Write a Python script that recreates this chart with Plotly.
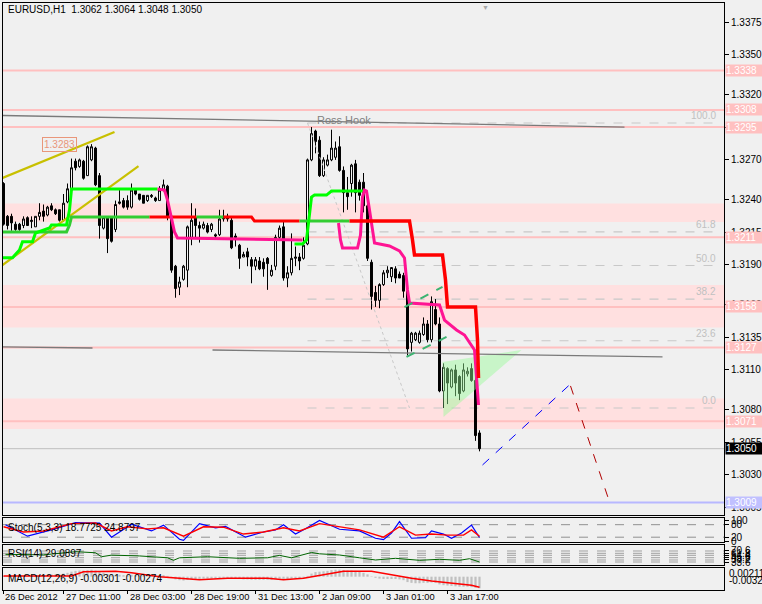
import plotly.graph_objects as go

W, H = 762, 604
FONT = "Liberation Sans"

# ---------------- hourly candles (bar index) ----------------
opens = [1.3252,1.3227,1.3227,1.3221,1.3221,1.3220,1.3226,1.3223,1.3219,1.3227,
         1.3231,1.3228,1.3235,1.3232,1.3232,1.3224,1.3238,1.3247,1.3269,1.3265,
         1.3269,1.3258,1.3270,1.3279,1.3258,1.3218,1.3226,1.3226,1.3217,1.3238,
         1.3239,1.3239,1.3234,1.3247,1.3244,1.3243,1.3239,1.3242,1.3241,1.3239,
         1.3247,1.3250,1.3227,1.3189,1.3173,1.3179,1.3186,1.3211,1.3226,1.3220,
         1.3218,1.3220,1.3217,1.3213,1.3213,1.3227,1.3227,1.3224,1.3212,1.3205,
         1.3196,1.3200,1.3194,1.3189,1.3193,1.3192,1.3195,1.3182,1.3189,1.3211,
         1.3219,1.3180,1.3184,1.3195,1.3196,1.3195,1.3206,1.3270,1.3292,1.3285,
         1.3258,1.3266,1.3270,1.3272,1.3280,1.3262,1.3245,1.3252,1.3267,1.3253,
         1.3253,1.3235,1.3192,1.3169,1.3163,1.3175,1.3184,1.3181,1.3187,1.3183,
         1.3182,1.3170,1.3131,1.3133,1.3131,1.3137,1.3145,1.3133,1.3156,1.3145,
         1.3094,1.3111,1.3097,1.3110,1.3105,1.3094,1.3107,1.3111,1.3102,1.3062]
highs = [1.3253,1.3228,1.3229,1.3223,1.3222,1.3227,1.3227,1.3227,1.3227,1.3237,
         1.3236,1.3235,1.3237,1.3233,1.3232,1.3244,1.3252,1.3271,1.3271,1.3271,
         1.3270,1.3281,1.3282,1.3280,1.3260,1.3227,1.3227,1.3227,1.3239,1.3247,
         1.3241,1.3243,1.3252,1.3247,1.3244,1.3243,1.3243,1.3244,1.3242,1.3250,
         1.3255,1.3251,1.3228,1.3190,1.3181,1.3190,1.3220,1.3237,1.3233,1.3223,
         1.3223,1.3222,1.3222,1.3214,1.3232,1.3232,1.3229,1.3227,1.3214,1.3206,
         1.3200,1.3203,1.3196,1.3196,1.3196,1.3195,1.3196,1.3190,1.3213,1.3220,
         1.3224,1.3189,1.3214,1.3204,1.3199,1.3211,1.3271,1.3295,1.3293,1.3288,
         1.3272,1.3274,1.3293,1.3284,1.3288,1.3265,1.3257,1.3267,1.3270,1.3255,
         1.3260,1.3240,1.3194,1.3174,1.3176,1.3186,1.3189,1.3188,1.3189,1.3185,
         1.3184,1.3171,1.3139,1.3139,1.3140,1.3150,1.3148,1.3166,1.3164,1.3150,
         1.3115,1.3112,1.3111,1.3114,1.3106,1.3115,1.3112,1.3115,1.3105,1.3064]
lows = [1.3220,1.3217,1.3216,1.3216,1.3216,1.3218,1.3220,1.3218,1.3219,1.3224,
        1.3223,1.3227,1.3231,1.3228,1.3223,1.3223,1.3237,1.3247,1.3262,1.3264,
        1.3255,1.3258,1.3269,1.3250,1.3210,1.3217,1.3199,1.3207,1.3215,1.3236,
        1.3233,1.3232,1.3233,1.3243,1.3239,1.3237,1.3238,1.3241,1.3238,1.3239,
        1.3246,1.3224,1.3184,1.3165,1.3167,1.3178,1.3173,1.3205,1.3210,1.3207,
        1.3217,1.3214,1.3215,1.3210,1.3212,1.3223,1.3223,1.3202,1.3204,1.3187,
        1.3196,1.3189,1.3176,1.3186,1.3186,1.3181,1.3171,1.3181,1.3186,1.3209,
        1.3178,1.3173,1.3182,1.3189,1.3186,1.3194,1.3205,1.3269,1.3275,1.3257,
        1.3257,1.3265,1.3269,1.3270,1.3261,1.3230,1.3232,1.3242,1.3230,1.3239,
        1.3230,1.3193,1.3156,1.3158,1.3157,1.3174,1.3180,1.3177,1.3176,1.3180,
        1.3165,1.3121,1.3124,1.3132,1.3130,1.3136,1.3131,1.3131,1.3144,1.3093,
        1.3081,1.3084,1.3096,1.3090,1.3087,1.3093,1.3105,1.3101,1.3056,1.3048]
closes = [1.3221,1.3220,1.3222,1.3217,1.3217,1.3225,1.3220,1.3224,1.3227,1.3230,
          1.3227,1.3234,1.3232,1.3229,1.3224,1.3237,1.3248,1.3264,1.3264,1.3270,
          1.3256,1.3280,1.3280,1.3251,1.3220,1.3226,1.3210,1.3208,1.3236,1.3237,
          1.3234,1.3234,1.3247,1.3244,1.3240,1.3237,1.3243,1.3243,1.3239,1.3247,
          1.3251,1.3227,1.3186,1.3172,1.3177,1.3189,1.3219,1.3224,1.3220,1.3218,
          1.3221,1.3215,1.3221,1.3212,1.3225,1.3225,1.3225,1.3203,1.3211,1.3195,
          1.3198,1.3196,1.3189,1.3194,1.3187,1.3187,1.3191,1.3186,1.3211,1.3218,
          1.3180,1.3184,1.3195,1.3196,1.3193,1.3205,1.3270,1.3290,1.3284,1.3258,
          1.3270,1.3270,1.3279,1.3279,1.3262,1.3245,1.3242,1.3266,1.3245,1.3243,
          1.3235,1.3195,1.3166,1.3163,1.3175,1.3184,1.3186,1.3188,1.3180,1.3180,
          1.3170,1.3126,1.3138,1.3138,1.3138,1.3145,1.3133,1.3162,1.3145,1.3094,
          1.3112,1.3100,1.3110,1.3100,1.3092,1.3110,1.3109,1.3102,1.3060,1.3050]
bars = list(range(len(opens)))

date_tick_bars = [-0.1, 15, 31, 47, 63, 79, 95, 111]
date_tick_text = ["26 Dec 2012", "27 Dec 11:00", "28 Dec 03:00", "28 Dec 19:00",
                  "31 Dec 13:00", "2 Jan 09:00", "3 Jan 01:00", "3 Jan 17:00"]
price_ticks = [1.3375, 1.3350, 1.3320, 1.3295, 1.3270, 1.3240, 1.3215, 1.3190,
               1.3160, 1.3135, 1.3110, 1.3080, 1.3055, 1.3030, 1.3005]

# ---------------- drawn objects ----------------
level_prices = [1.3338, 1.3308, 1.3295, 1.3211, 1.3158, 1.3127, 1.3071]
support_price = 1.3009
bid_price = 1.3050
zone_low = [1.32227, 1.31423, 1.30650]
zone_high = [1.32368, 1.31747, 1.30883]

fib_high = 1.32981
fib_low = 1.30810
fib_levels = [0.0, 23.6, 38.2, 50.0, 61.8, 100.0]
fib_start_bar, fib_end_bar = 76, 179
fib_diag_x = [76, 101.5]
fib_diag_y = [1.32981, 1.30810]

grey1_x, grey1_y = [-0.25, 155.25], [1.33038, 1.32950]
grey2a_x, grey2a_y = [-0.25, 22.25], [1.31275, 1.31267]
grey2b_x, grey2b_y = [52.25, 164.75], [1.31252, 1.31199]

yel1_x, yel1_y = [-0.25, 27.75], [1.32562, 1.32912]
yel2_x, yel2_y = [-0.25, 33.75], [1.31899, 1.32653]

chan_up_x, chan_up_y = [100.25, 109.75], [1.31579, 1.31732]
chan_lo_x, chan_lo_y = [100.75, 110.75], [1.31199, 1.31351]

tri_x = [109.75, 129.5, 110.0, 109.75]
tri_y = [1.31161, 1.31252, 1.30742, 1.31161]

proj_up_x, proj_up_y = [119.75, 141.75], [1.30376, 1.30993]
proj_dn_x, proj_dn_y = [141.75, 151.75], [1.30978, 1.30072]

# fast stop line (green up / pink down)
fast_up1_x = [-0.25, 2.25, 4, 4.75, 7.25, 8, 11.5, 12, 15.75, 16.5, 17, 38.5]
fast_up1_y = [1.31955, 1.31955, 1.32014, 1.32077, 1.32077, 1.32143, 1.32181, 1.32204,
              1.32204, 1.32318, 1.32478, 1.32478]
fast_dn1_x = [38.5, 40.25, 41, 42, 42.75, 43.5, 74.75]
fast_dn1_y = [1.32478, 1.32470, 1.32394, 1.32242, 1.32151, 1.32105, 1.32090]
fast_up2_x = [72.75, 74.75, 75.75, 76.25, 77, 77.75, 80.75, 82, 90.25]
fast_up2_y = [1.32059, 1.32059, 1.32090, 1.32204, 1.32417, 1.32432, 1.32432,
              1.32463, 1.32463]
fast_dn2_x = [83.75, 84.25, 84.75, 88.5, 89.25, 89.75, 90.25, 90.75, 91.5, 92.25,
              92.75, 96.5, 99, 100.25, 101, 101.5, 109, 110.25, 113.25, 115.25,
              116.5, 117.75, 118.25, 118.75]
fast_dn2_y = [1.32219, 1.32090, 1.32029, 1.32029, 1.32128, 1.32417, 1.32470, 1.32463,
              1.32318, 1.32166, 1.32067, 1.32044, 1.32006, 1.31953, 1.31709, 1.31610,
              1.31595, 1.31480, 1.31404, 1.31366, 1.31305, 1.31252, 1.31046, 1.30833]
# slow stop line (lime up / red down)
slow_up1_x = [-0.25, 15.75, 16.5, 17, 36.5]
slow_up1_y = [1.32151, 1.32151, 1.32204, 1.32265, 1.32265]
slow_dn1_x, slow_dn1_y = [36.5, 48.25], [1.32265, 1.32265]
slow_up2_x, slow_up2_y = [48.25, 55], [1.32265, 1.32265]
slow_dn2_x = [55, 62, 62.75, 74]
slow_dn2_y = [1.32265, 1.32265, 1.32234, 1.32234]
slow_up3_x, slow_up3_y = [74, 86.5], [1.32234, 1.32234]
slow_dn3_x = [86.5, 101.5, 102.25, 102.75, 109.75, 110.5, 111, 118, 118.5, 118.75]
slow_dn3_y = [1.32234, 1.32234, 1.32090, 1.31975, 1.31975, 1.31785, 1.31579,
              1.31579, 1.31328, 1.31039]

# ---------------- indicators ----------------
stoch_k_x = [0.5, 6, 12, 18, 24, 27, 32, 37, 40, 44, 45, 49, 53, 55.5, 60.5, 65, 68,
             70, 73, 75.5, 79, 84, 89, 93, 95, 97, 99, 102, 105.5, 107, 110, 112,
             114.5, 117, 119]
stoch_k_y = [80, 25, 55, 90, 88, 20, 82, 50, 78, 10, 5, 85, 65, 72, 20, 45, 55, 80,
             35, 60, 100, 58, 50, 15, 8, 40, 95, 15, 18, 50, 35, 15, 40, 78, 18.7725]
stoch_d_x = [0, 5, 10, 17, 23, 27, 31, 36, 40, 45, 50, 55, 60, 65, 70, 74, 79, 84,
             89, 95, 99, 103, 107, 111, 115, 117, 119]
stoch_d_y = [70, 45, 50, 85, 88, 50, 70, 60, 65, 25, 70, 68, 35, 45, 65, 50, 85, 70,
             55, 20, 70, 30, 35, 30, 30, 55, 24.8797]
stoch_levels = [80, 20]

rsi_x = [0.5, 10, 18, 23, 24.5, 27, 34, 41, 42.5, 44, 51, 56, 59, 66, 69, 72, 77, 79,
         84, 89, 93, 98, 101.5, 104, 109, 114, 116.5, 119]
rsi_y = [58, 56, 68, 64, 49, 55, 52, 45, 35.5, 45, 49, 45, 43, 45, 54, 45, 65, 60,
         55.5, 45, 36.7, 43, 38, 35.5, 39.3, 35.5, 41.6, 29.0897]
rsi_levels = [70.6, 61.9, 54.4, 45.3, 36.7, 29.1]
rsi_level_text = ["70.6", "61.8", "54.4", "45.6", "38.2", "33.6"]

macd_hist = [0.0002, 0.0002, 0.0001, 0.0001, 0.0000, 0.0000, 0.0001, 0.0001, 0.0002, 0.0003,
             0.0004, 0.0005, 0.0006, 0.0006, 0.0006, 0.0008, 0.0010, 0.0013, 0.0015, 0.0016,
             0.0016, 0.0017, 0.0018, 0.0016, 0.0012, 0.0010, 0.0007, 0.0005, 0.0005, 0.0005,
             0.0004, 0.0004, 0.0005, 0.0005, 0.0004, 0.0003, 0.0003, 0.0003, 0.0003, 0.0004,
             0.0004, 0.0002, -0.0003, -0.0007, -0.0009, -0.0010, -0.0008, -0.0006, -0.0006, -0.0006,
             -0.0005, -0.0005, -0.0005, -0.0005, -0.0004, -0.0003, -0.0003, -0.0004, -0.0005, -0.0006,
             -0.0007, -0.0007, -0.0008, -0.0008, -0.0008, -0.0008, -0.0008, -0.0008, -0.0006, -0.0005,
             -0.0006, -0.0006, -0.0005, -0.0005, -0.0004, -0.0003, 0.0002, 0.0008, 0.0012, 0.0013,
             0.0014, 0.0015, 0.0017, 0.0018, 0.0018, 0.0017, 0.0016, 0.0016, 0.0015, 0.0013,
             0.0010, 0.0006, 0.0001, -0.0003, -0.0005, -0.0006, -0.0006, -0.0006, -0.0006, -0.0007,
             -0.0009, -0.0014, -0.0016, -0.0017, -0.0017, -0.0016, -0.0016, -0.0015, -0.0016, -0.0020,
             -0.0022, -0.0023, -0.0024, -0.0025, -0.0026, -0.0026, -0.0026, -0.0027, -0.0029, -0.00301]
macd_sig_x = [0, 17, 20, 28, 32, 39, 49, 56, 66, 70, 75, 80, 85, 92, 97, 102, 107, 112,
              117, 119]
macd_sig_y = [0.0002, 0.0002, 0.0013, 0.0014, 0.0010, 0.0000, -0.0008, -0.0004, -0.0004,
              -0.0008, -0.0004, 0.0005, 0.0014, 0.0014, 0.0005, -0.0004, -0.0011, -0.0016,
              -0.0022, -0.00274]
macd_max_text, macd_min_text = "0.002111", "-0.003260"

# ---------------- layout geometry (pixels) ----------------
LEFT, RIGHT = 3, 724
MAIN = (3, 515)
STO = (518, 542)
RSI = (545, 565)
MACD = (568, 590)


def ydom(p):
    return [(H - p[1]) / H, (H - p[0]) / H]


XDOM = [LEFT / W, RIGHT / W]
XRANGE = [-0.125, 180.125]   # 4 px per hourly bar, bar centres on half pixels

fig = go.Figure()

# triangle
fig.add_trace(go.Scatter(x=tri_x, y=tri_y, mode="lines", fill="toself",
                         fillcolor="rgba(150,250,150,0.45)", line=dict(width=0),
                         xaxis="x", yaxis="y"))
# fib diagonal
fig.add_trace(go.Scatter(x=fib_diag_x, y=fib_diag_y, mode="lines",
                         line=dict(color="#C8C8C8", width=1, dash="dot"), xaxis="x", yaxis="y"))
# grey lines
for gx, gy in [(grey1_x, grey1_y), (grey2a_x, grey2a_y), (grey2b_x, grey2b_y)]:
    fig.add_trace(go.Scatter(x=gx, y=gy, mode="lines", line=dict(color="#7A7A7A", width=1.3),
                             xaxis="x", yaxis="y"))
# yellow trend lines
for gx, gy in [(yel1_x, yel1_y), (yel2_x, yel2_y)]:
    fig.add_trace(go.Scatter(x=gx, y=gy, mode="lines", line=dict(color="#C8C000", width=2.2),
                             xaxis="x", yaxis="y"))

# candles
fig.add_trace(go.Candlestick(
    x=bars, open=opens, high=highs, low=lows, close=closes,
    increasing=dict(line=dict(color="black", width=1), fillcolor="white"),
    decreasing=dict(line=dict(color="black", width=1), fillcolor="black"),
    whiskerwidth=0, xaxis="x", yaxis="y"))


def add_line(x, y, color, width=3):
    fig.add_trace(go.Scatter(x=x, y=y, mode="lines", line=dict(color=color, width=width),
                             xaxis="x", yaxis="y"))


add_line(slow_up1_x, slow_up1_y, "#32CD32")
add_line(slow_dn1_x, slow_dn1_y, "#FF0000")
add_line(slow_up2_x, slow_up2_y, "#32CD32")
add_line(slow_dn2_x, slow_dn2_y, "#FF0000")
add_line(slow_up3_x, slow_up3_y, "#32CD32")
add_line(fast_up1_x, fast_up1_y, "#00FF00")
add_line(fast_dn1_x, fast_dn1_y, "#FF1493")
add_line(fast_up2_x, fast_up2_y, "#00FF00")
add_line(fast_dn2_x, fast_dn2_y, "#FF1493")
add_line(slow_dn3_x, slow_dn3_y, "#FF0000", 3.5)

# channel
for gx, gy in [(chan_up_x, chan_up_y), (chan_lo_x, chan_lo_y)]:
    fig.add_trace(go.Scatter(x=gx, y=gy, mode="lines",
                             line=dict(color="#3CB371", width=2, dash="dash"), xaxis="x", yaxis="y"))
# projections
fig.add_trace(go.Scatter(x=proj_up_x, y=proj_up_y, mode="lines",
                         line=dict(color="#0000FF", width=1, dash="dash"), xaxis="x", yaxis="y"))
fig.add_trace(go.Scatter(x=proj_dn_x, y=proj_dn_y, mode="lines",
                         line=dict(color="#B00000", width=1, dash="dash"), xaxis="x", yaxis="y"))

# stochastic
fig.add_trace(go.Scatter(x=stoch_k_x, y=stoch_k_y, mode="lines",
                         line=dict(color="#0000FF", width=1.2), xaxis="x2", yaxis="y2"))
fig.add_trace(go.Scatter(x=stoch_d_x, y=stoch_d_y, mode="lines",
                         line=dict(color="#FF0000", width=1.4), xaxis="x2", yaxis="y2"))
# rsi
fig.add_trace(go.Scatter(x=rsi_x, y=rsi_y, mode="lines",
                         line=dict(color="#006400", width=1), xaxis="x3", yaxis="y3"))
# macd
fig.add_trace(go.Bar(x=bars, y=macd_hist, width=0.55, marker=dict(color="#C0C0C0", line_width=0),
                     xaxis="x4", yaxis="y4"))
fig.add_trace(go.Scatter(x=macd_sig_x, y=macd_sig_y, mode="lines",
                         line=dict(color="#FF0000", width=1.5), xaxis="x4", yaxis="y4"))

# ---------------- shapes ----------------
shapes = []
for lo, hi in zip(zone_low, zone_high):
    shapes.append(dict(type="rect", xref="x domain", yref="y", x0=0, x1=1, y0=lo, y1=hi,
                       fillcolor="#FFE0E0", line_width=0, layer="below"))
for lvl in fib_levels:
    p = fib_low + (fib_high - fib_low) * lvl / 100.0
    shapes.append(dict(type="line", xref="x", yref="y", x0=fib_start_bar, x1=fib_end_bar,
                       y0=p, y1=p, line=dict(color="#C8C8C8", width=1.2, dash="dash"),
                       layer="below"))
for p in level_prices:
    shapes.append(dict(type="line", xref="x domain", yref="y", x0=0, x1=1, y0=p, y1=p,
                       line=dict(color="#FFC0C0", width=2), layer="below"))
shapes.append(dict(type="line", xref="x domain", yref="y", x0=0, x1=1, y0=support_price,
                   y1=support_price, line=dict(color="#B8B8FF", width=2), layer="below"))
shapes.append(dict(type="line", xref="x domain", yref="y", x0=0, x1=1, y0=bid_price,
                   y1=bid_price, line=dict(color="#BEBEBE", width=1), layer="below"))
for lv in stoch_levels:
    shapes.append(dict(type="line", xref="x2 domain", yref="y2", x0=0, x1=1, y0=lv, y1=lv,
                       line=dict(color="#909090", width=1, dash="dash"), layer="below"))
for lv in rsi_levels:
    shapes.append(dict(type="line", xref="x3 domain", yref="y3", x0=0, x1=1, y0=lv, y1=lv,
                       line=dict(color="#A0A0A0", width=1, dash="dash"), layer="below"))

# ---------------- annotations ----------------
ann = []


def txt(text, x, y, xref="paper", yref="paper", size=10, color="black", xanchor="left",
        yanchor="middle", **kw):
    d = dict(text=text, x=x, y=y, xref=xref, yref=yref, showarrow=False,
             font=dict(family=FONT, size=size, color=color), xanchor=xanchor, yanchor=yanchor)
    d.update(kw)
    ann.append(d)


txt(f"EURUSD,H1\u00a0\u00a0{opens[-1]:.4f} {highs[-1]:.4f} {lows[-1]:.4f} {closes[-1]:.4f}",
    6 / W, (H - 10) / H)
txt("\u25bc", 485 / W, (H - 2) / H, size=7, color="#A8A8A8", xanchor="center", yanchor="top")
txt("Ross Hook", 85, 1.33004, xref="x", yref="y", size=11, color="#808080", xanchor="center")
txt("1.3283", 13.9, 1.32817, xref="x", yref="y", size=10, color="#E9967A", xanchor="center",
    bordercolor="#E9967A", borderwidth=1, borderpad=1)
for lvl in fib_levels:
    p = fib_low + (fib_high - fib_low) * lvl / 100.0
    txt(f"{lvl:.1f}", fib_end_bar - 0.5, p, xref="x", yref="y", size=10, color="#C0C0C0",
        xanchor="right", yanchor="bottom")


def price_label(p, bg):
    txt(f"{p:.4f}", (RIGHT + 1) / W, p, yref="y", size=10, color="white", bgcolor=bg,
        borderpad=0, width=37, align="left")


for p in level_prices:
    price_label(p, "#FFC0C0")
price_label(support_price, "#C0C0FF")
price_label(bid_price, "black")

txt(f"Stoch(5,3,3) {stoch_k_y[-1]:.4f} {stoch_d_y[-1]:.4f}", 6 / W, (H - 527) / H)
txt(f"RSI(14) {rsi_y[-1]:.4f}", 6 / W, (H - 553) / H)
txt(f"MACD(12,26,9) {macd_hist[-1]:.5f} {macd_sig_y[-1]:.5f}", 6 / W, (H - 578) / H)
txt(macd_max_text, (RIGHT + 3) / W, (H - 573) / H)
txt(macd_min_text, (RIGHT + 3) / W, (H - 580) / H)
for b, t in zip(date_tick_bars, date_tick_text):
    txt(t, b, (H - 597) / H, xref="x", xanchor="left", xshift=0, size=9.3)

# ---------------- axes ----------------
axis_common = dict(showline=True, linecolor="black", linewidth=1, mirror=True,
                   showgrid=False, zeroline=False, fixedrange=True, automargin=False)
ytick = dict(side="right", ticks="outside", ticklen=4, tickcolor="black",
             tickfont=dict(family=FONT, size=10, color="black"))

fig.update_layout(
    width=W, height=H, margin=dict(l=0, r=0, t=0, b=0, pad=0, autoexpand=False),
    paper_bgcolor="#F0F0F0", plot_bgcolor="#F0F0F0",
    showlegend=False, hovermode=False, barmode="overlay",
    shapes=shapes, annotations=ann,
    xaxis=dict(domain=XDOM, range=XRANGE, anchor="y", showticklabels=False,
               rangeslider=dict(visible=False), **axis_common),
    xaxis2=dict(domain=XDOM, range=XRANGE, anchor="y2", matches="x", showticklabels=False,
                **axis_common),
    xaxis3=dict(domain=XDOM, range=XRANGE, anchor="y3", matches="x", showticklabels=False,
                **axis_common),
    xaxis4=dict(domain=XDOM, range=XRANGE, anchor="y4", matches="x",
                tickvals=date_tick_bars, ticks="outside", ticklen=3, tickcolor="black",
                showticklabels=False, **axis_common),
    yaxis=dict(domain=ydom(MAIN), range=[1.29995, 1.33895], anchor="x",
               tickvals=price_ticks, ticktext=[f"{v:.4f}" for v in price_ticks],
               **ytick, **axis_common),
    yaxis2=dict(domain=ydom(STO), range=[-3, 112], anchor="x2",
                tickvals=[100, 80, 20, 0], ticktext=["100", "80", "20", "0"],
                **ytick, **axis_common),
    yaxis3=dict(domain=ydom(RSI), range=[17.8, 93.2], anchor="x3",
                tickvals=rsi_levels, ticktext=rsi_level_text, **ytick, **axis_common),
    yaxis4=dict(domain=ydom(MACD), range=[-0.00345, 0.00225], anchor="x4",
                showticklabels=False, ticks="", **axis_common),
)

fig.write_html("out.html", config={"displayModeBar": False, "staticPlot": True},
               post_script="document.body.style.margin='0';document.body.style.overflow='hidden';")
